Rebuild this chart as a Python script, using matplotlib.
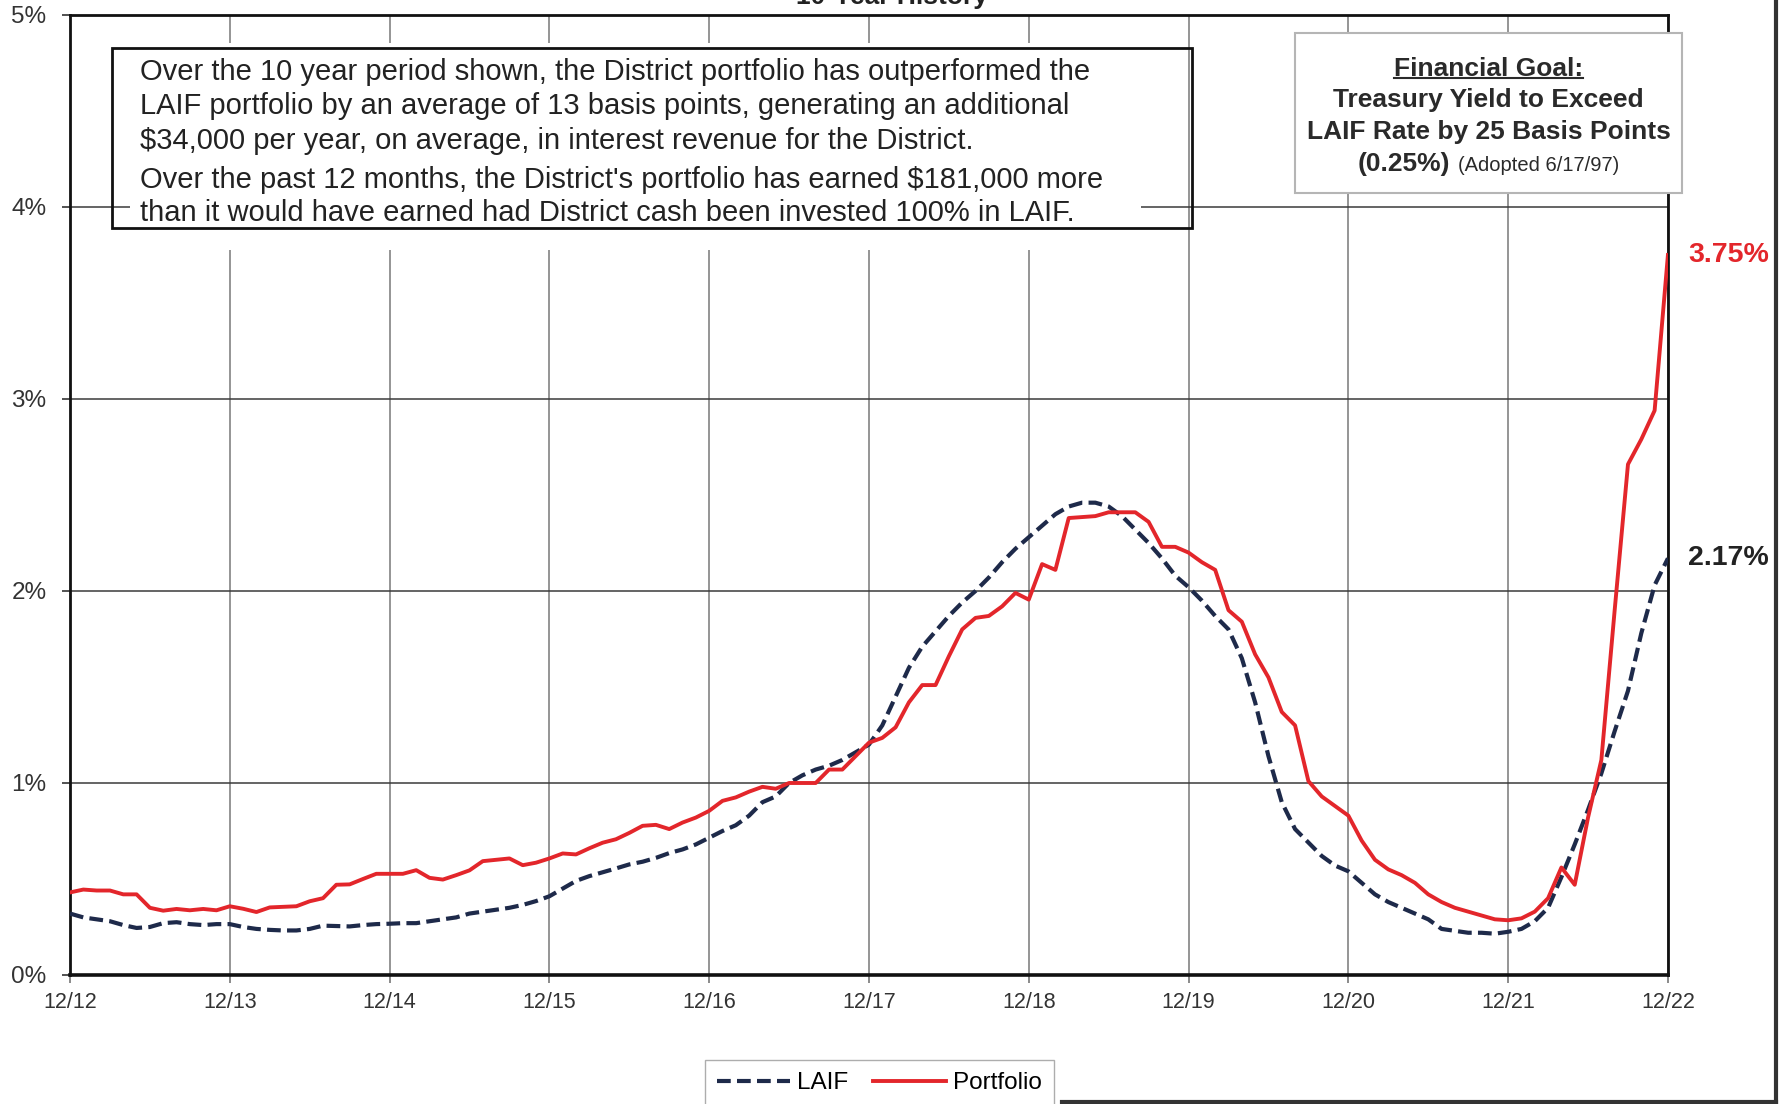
import matplotlib
matplotlib.use('Agg')
import matplotlib.pyplot as plt
import numpy as np
from matplotlib.patches import Rectangle
from matplotlib.lines import Line2D

plt.rcParams['font.family'] = ['Liberation Sans', 'DejaVu Sans']

# monthly yields in %, 12/12 .. 12/22
laif = [0.32, 0.30, 0.29, 0.28, 0.26, 0.245, 0.25, 0.27, 0.275, 0.265, 0.26, 0.265,
        0.265, 0.25, 0.24, 0.235, 0.232, 0.232, 0.24, 0.257, 0.255, 0.253, 0.26, 0.265,
        0.267, 0.27, 0.27, 0.28, 0.29, 0.30, 0.32, 0.33, 0.34, 0.35, 0.365, 0.385,
        0.41, 0.45, 0.49, 0.515, 0.535, 0.555, 0.576, 0.59, 0.61, 0.635, 0.654, 0.68,
        0.715, 0.75, 0.78, 0.83, 0.90, 0.93, 1.00, 1.04, 1.07, 1.09, 1.12, 1.16,
        1.20, 1.30, 1.45, 1.60, 1.71, 1.79, 1.87, 1.94, 2.00, 2.07, 2.15, 2.22,
        2.28, 2.34, 2.40, 2.44, 2.46, 2.46, 2.44, 2.39, 2.32, 2.25, 2.17, 2.08,
        2.02, 1.95, 1.87, 1.80, 1.65, 1.42, 1.14, 0.90, 0.76, 0.69, 0.62, 0.57,
        0.54, 0.48, 0.42, 0.38, 0.35, 0.32, 0.29, 0.24, 0.23, 0.22, 0.22, 0.215,
        0.225, 0.24, 0.28, 0.35, 0.51, 0.68, 0.86, 1.05, 1.27, 1.48, 1.78, 2.03,
        2.17]
portfolio = [0.43, 0.445, 0.44, 0.44, 0.42, 0.42, 0.35, 0.335, 0.344, 0.337, 0.344, 0.337,
             0.358, 0.345, 0.328, 0.352, 0.355, 0.358, 0.384, 0.40, 0.47, 0.472, 0.50, 0.527,
             0.527, 0.527, 0.546, 0.506, 0.497, 0.52, 0.545, 0.593, 0.60, 0.607, 0.572, 0.585,
             0.607, 0.633, 0.628, 0.66, 0.689, 0.707, 0.74, 0.777, 0.782, 0.76, 0.794, 0.82,
             0.855, 0.907, 0.925, 0.955, 0.98, 0.97, 1.00, 1.00, 1.00, 1.07, 1.07, 1.14,
             1.21, 1.235, 1.29, 1.42, 1.51, 1.51, 1.66, 1.80, 1.86, 1.87, 1.92, 1.99,
             1.955, 2.14, 2.11, 2.38, 2.385, 2.39, 2.41, 2.41, 2.41, 2.36, 2.23, 2.23,
             2.20, 2.15, 2.11, 1.90, 1.84, 1.67, 1.55, 1.37, 1.30, 1.01, 0.93, 0.88,
             0.83, 0.70, 0.60, 0.55, 0.52, 0.48, 0.42, 0.38, 0.35, 0.33, 0.31, 0.29,
             0.285, 0.295, 0.33, 0.40, 0.56, 0.47, 0.82, 1.12, 1.90, 2.66, 2.79, 2.94,
             3.75]
tick_labels = ['12/12', '12/13', '12/14', '12/15', '12/16', '12/17',
               '12/18', '12/19', '12/20', '12/21', '12/22']
y_ticks = [0, 1, 2, 3, 4, 5]

note_lines = [
    "Over the 10 year period shown, the District portfolio has outperformed the",
    "LAIF portfolio by an average of 13 basis points, generating an additional",
    "$34,000 per year, on average, in interest revenue for the District.",
    "Over the past 12 months, the District's portfolio has earned $181,000 more",
    "than it would have earned had District cash been invested 100% in LAIF.",
]

navy = '#1e2a4a'
red = '#e3262b'

months = np.arange(len(laif))

fig = plt.figure(figsize=(17.84, 11.04), dpi=100)
ax = fig.add_axes([0.03924, 0.11685, 0.8957, 0.86957])

ax.plot(months, laif, color=navy, lw=3.0, linestyle=(0, (3.3, 1.5)), label='LAIF', zorder=3)
ax.plot(months, portfolio, color=red, lw=2.8, label='Portfolio', zorder=3)

ax.set_xlim(0, len(laif) - 1)
ax.set_ylim(0, 5)
ax.set_xticks(np.arange(0, len(laif), 12))
ax.set_xticklabels(tick_labels)
ax.set_yticks(y_ticks)
ax.set_yticklabels([f'{v}%' for v in y_ticks])

ax.set_axisbelow(True)
ax.xaxis.grid(True, color='#8c8c8c', lw=1.3)
ax.yaxis.grid(True, color='#3a3a3a', lw=1.1)
for s in ax.spines.values():
    s.set_color('#111111')
    s.set_linewidth(2)
ax.spines['bottom'].set_linewidth(2.6)

ax.tick_params(axis='y', length=6, width=1.2, pad=11, labelsize=17.5, labelcolor='#333333', color='#333333')
ax.tick_params(axis='x', length=6, width=1.2, pad=6, labelsize=15.5, labelcolor='#333333', color='#777777')

# note box (white mask hides the grid behind it)
ax.add_patch(Rectangle((0.0375, 0.755), 0.6325, 0.216, transform=ax.transAxes,
                       fc='white', ec='none', zorder=1))
ax.add_patch(Rectangle((0.0263, 0.778), 0.6757, 0.1876, transform=ax.transAxes,
                       fill=False, ec='#111111', lw=2, zorder=4))
note_y = [0.9323, 0.8968, 0.8604, 0.8198, 0.7852]
for line, yy in zip(note_lines, note_y):
    ax.text(0.0438, yy, line, transform=ax.transAxes, fontsize=21, color='#222222',
            va='baseline', ha='left', zorder=5)

# financial goal box (covers the right spine at the top)
ax.add_patch(Rectangle((0.7666, 0.8146), 0.2422, 0.1667, transform=ax.transAxes,
                       fc='white', ec='#b5b5b5', lw=1.5, zorder=4, clip_on=False))
cx = 0.8877
goal = ax.text(cx, 0.9365, 'Financial Goal:', transform=ax.transAxes, fontsize=19,
               fontweight='bold', color='#2a2a2a', ha='center', va='baseline', zorder=5)
ax.text(cx, 0.9042, 'Treasury Yield to Exceed', transform=ax.transAxes, fontsize=19,
        fontweight='bold', color='#2a2a2a', ha='center', va='baseline', zorder=5)
ax.text(cx, 0.8708, 'LAIF Rate by 25 Basis Points', transform=ax.transAxes, fontsize=19,
        fontweight='bold', color='#2a2a2a', ha='center', va='baseline', zorder=5)
t1 = ax.text(cx, 0.8375, '(0.25%)', transform=ax.transAxes, fontsize=19,
             fontweight='bold', color='#2a2a2a', ha='left', va='baseline', zorder=5)
t2 = ax.text(cx, 0.8375, '(Adopted 6/17/97)', transform=ax.transAxes, fontsize=14.5,
             color='#2a2a2a', ha='left', va='baseline', zorder=5)

# end labels
ax.annotate(f'{portfolio[-1]:.2f}%', xy=(months[-1], portfolio[-1]), xytext=(14.4, 0),
            textcoords='offset points', va='center', ha='left', fontsize=20.5,
            fontweight='bold', color=red, annotation_clip=False)
ax.annotate(f'{laif[-1]:.2f}%', xy=(months[-1], laif[-1]), xytext=(14.4, 0),
            textcoords='offset points', va='center', ha='left', fontsize=20.5,
            fontweight='bold', color='#222222', annotation_clip=False)

# title, cut by the page top
fig.text(0.5, 1 - 4 / 1104, '10-Year History', fontsize=19, fontweight='bold',
         color='#222222', ha='center', va='baseline')

fig.legend(loc='upper center', bbox_to_anchor=(0.493, 0.051), ncol=2, frameon=True,
           fancybox=False, edgecolor='#999999', fontsize=17.5, handlelength=3.0,
           handletextpad=0.3, columnspacing=1.0, borderpad=0.5)

# page frame edges
fig.add_artist(Line2D([1776 / 1784, 1776 / 1784], [0, 1], transform=fig.transFigure,
                      color='#333333', lw=3))
fig.add_artist(Line2D([1062 / 1784, 1776 / 1784], [2 / 1104, 2 / 1104], transform=fig.transFigure,
                      color='#333333', lw=3))

# place the split last line of the goal box and underline its heading
fig.canvas.draw()
inv = ax.transAxes.inverted()
b1 = t1.get_window_extent()
b2 = t2.get_window_extent()
gap = 8
total = b1.width + gap + b2.width
x0 = ax.transAxes.transform((cx, 0))[0] - total / 2
t1.set_x(inv.transform((x0, 0))[0])
t2.set_x(inv.transform((x0 + b1.width + gap, 0))[0])

bg = goal.get_window_extent()
W, H = fig.bbox.width, fig.bbox.height
uy = (bg.y0 + 3) / H
fig.add_artist(Line2D([bg.x0 / W, bg.x1 / W], [uy, uy], transform=fig.transFigure,
                      color='#2a2a2a', lw=1.5))

fig.savefig('out.png', dpi=100)
